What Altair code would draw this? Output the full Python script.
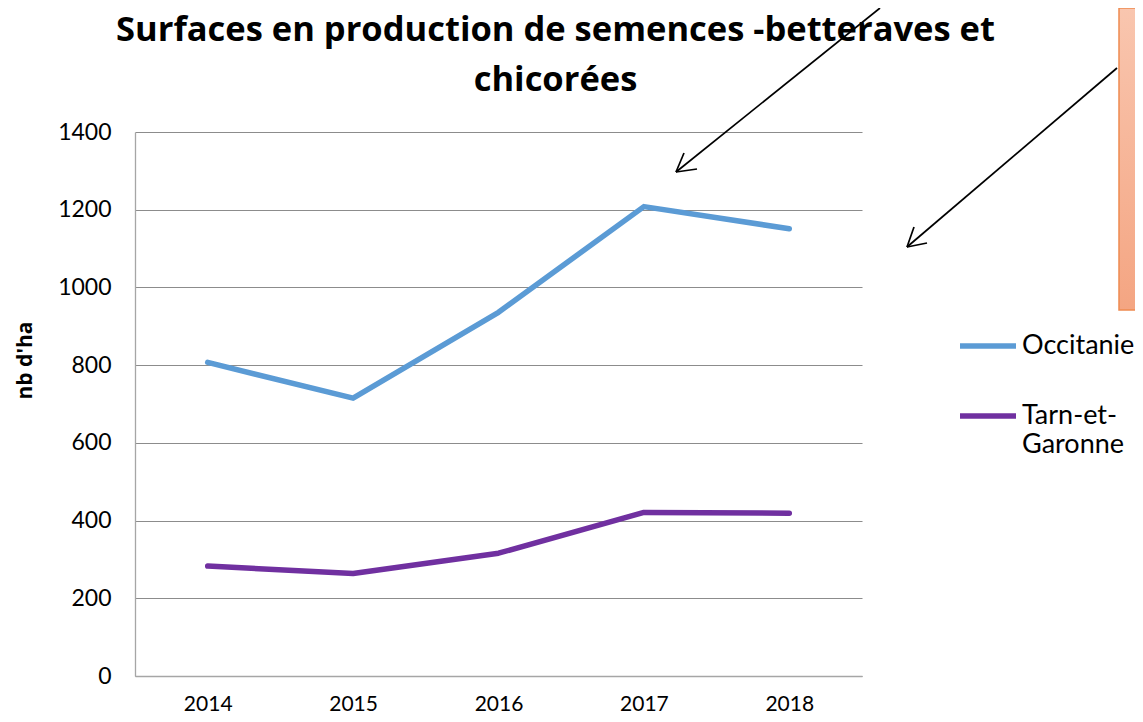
import altair as alt
import pandas as pd

years = ["2014", "2015", "2016", "2017", "2018"]
occitanie = [807, 715, 936, 1208, 1151]
tarn = [283, 264, 316, 421, 419]
series_names = ["Occitanie", "Tarn-et-Garonne"]
series_colors = ["#5B9BD5", "#7030A0"]

df = pd.DataFrame({
    "annee": years * 2,
    "valeur": occitanie + tarn,
    "serie": [series_names[0]] * len(years) + [series_names[1]] * len(years),
})

FONT = "Lato"
TFONT = "Open Sans"

lines = alt.Chart(df).mark_line(strokeWidth=5.5, strokeCap="round", strokeJoin="round").encode(
    x=alt.X("annee:O", scale=alt.Scale(type="point", padding=0.5),
            axis=alt.Axis(title=None, labelAngle=0, ticks=False, grid=False,
                          labelPadding=17, labelFontSize=21, labelFont=FONT,
                          labelColor="#000000", domainColor="#A6A6A6", domainWidth=1.3)),
    y=alt.Y("valeur:Q", scale=alt.Scale(domain=[0, 1400], nice=False),
            axis=alt.Axis(title="nb d'ha", values=[0, 200, 400, 600, 800, 1000, 1200, 1400],
                          format="d", ticks=False, labelPadding=24, labelFontSize=23,
                          labelFont=FONT, labelColor="#000000", domainColor="#A6A6A6",
                          domainWidth=1.3, gridColor="#8C8C8C", gridWidth=1.2,
                          titleFont=TFONT, titleFontSize=21, titleFontWeight="bold",
                          titleColor="#000000", titleAngle=270, titleAlign="center",
                          titleBaseline="middle", titleX=-110, titleY=228)),
    color=alt.Color("serie:N", scale=alt.Scale(domain=series_names, range=series_colors),
                    legend=alt.Legend(title=None, orient="none", legendX=822, legendY=183,
                                      symbolType="stroke", symbolSize=3136,
                                      symbolStrokeWidth=5.5, labelFont=FONT, labelFontSize=27,
                                      labelColor="#000000", labelOffset=3, rowPadding=26,
                                      labelLimit=300,
                                      labelExpr="datum.label == 'Tarn-et-Garonne' ? ['Tarn-et-', 'Garonne'] : datum.label")),
)

one = alt.Data(values=[{"k": 1}])


def seg(x1, y1, x2, y2):
    return alt.Chart(one).mark_rule(color="black", strokeWidth=1.7).encode(
        x=alt.value(x1), y=alt.value(y1), x2=alt.value(x2), y2=alt.value(y2))


box = alt.Chart(one).mark_rect(
    fill=alt.Gradient(gradient="linear", x1=0, y1=0, x2=0, y2=1,
                      stops=[alt.GradientStop(color="#F9C6AF", offset=0),
                             alt.GradientStop(color="#F4A582", offset=1)]),
    stroke="#EE8A50", strokeWidth=1.5,
).encode(x=alt.value(984), x2=alt.value(1030), y=alt.value(-124), y2=alt.value(178))

arrows = [
    seg(745, -124, 541, 40), seg(541, 40, 562, 37), seg(541, 40, 549, 21),
    seg(982, -64, 772, 115), seg(772, 115, 792, 111), seg(772, 115, 779, 95),
]

chart = alt.layer(lines, box, *arrows).properties(
    width=727, height=544,
    autosize=alt.AutoSizeParams(type="none"),
    padding={"left": 127, "top": 124, "right": 273, "bottom": 38},
    title=alt.TitleParams(
        text=["Surfaces en production de semences -betteraves et", "chicorées"],
        font=TFONT, fontSize=34.5, fontWeight="bold", color="#000000",
        lineHeight=50, anchor="middle", dx=57, dy=91, offset=0),
).configure_view(stroke=None)

chart.save("out.html", embed_options={"renderer": "svg", "actions": False})
